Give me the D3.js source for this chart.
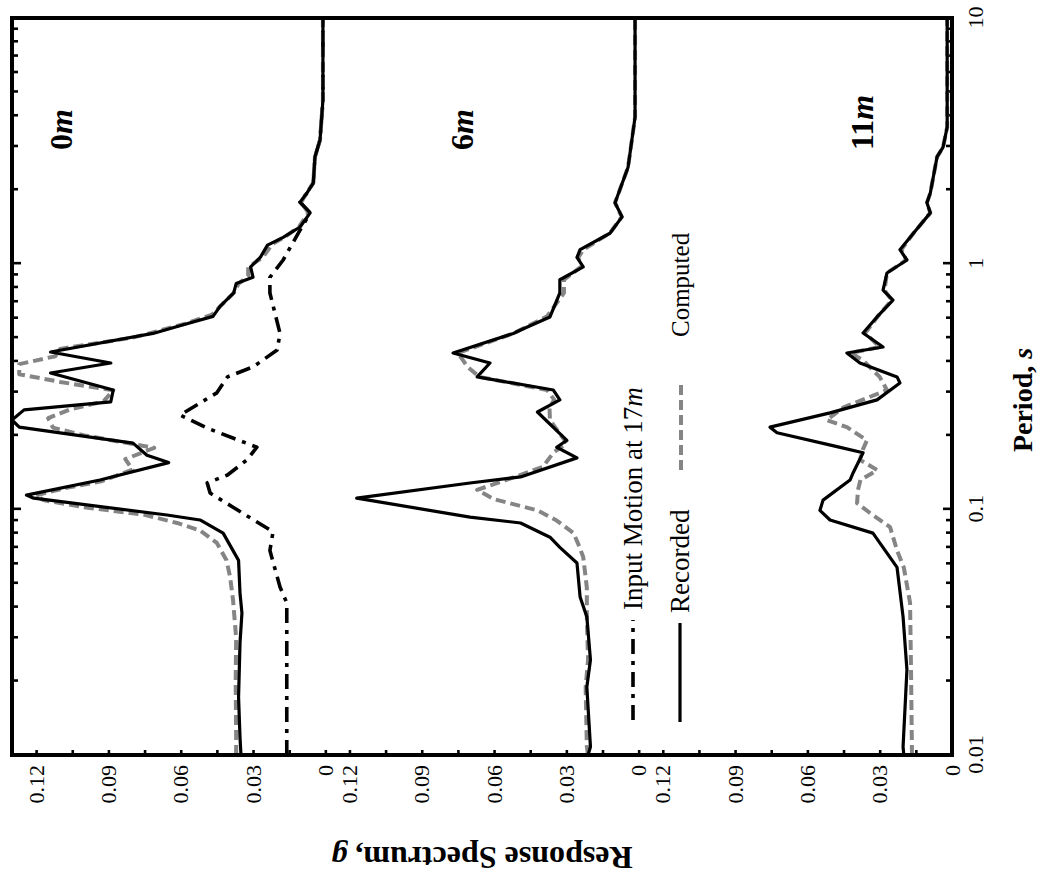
<!DOCTYPE html>
<html>
<head>
<meta charset="utf-8">
<script src="https://cdn.jsdelivr.net/npm/d3@7"></script>
<style>
  body { margin: 0; background: #fff; }
  text { font-family: "Liberation Serif", "Times New Roman", serif; fill: #000; }
</style>
</head>
<body>
<div id="chart"></div>
<script>
// panels (depth below surface)
var panelNames = ["0", "6", "11"];

// tick values
var periodMajor = [0.01, 0.1, 1, 10];
var periodMinor = [0.02, 0.03, 0.04, 0.05, 0.06, 0.07, 0.08, 0.09,
  0.2, 0.3, 0.4, 0.5, 0.6, 0.7, 0.8, 0.9, 2, 3, 4, 5, 6, 7, 8, 9];
var valueTicks = [0, 0.015, 0.03, 0.045, 0.06, 0.075, 0.09, 0.105, 0.12];

// [period s, spectral acceleration g]
var rec0m = [[0.01,0.035],[0.0118,0.0354],[0.0172,0.036],[0.0286,0.0354],[0.0378,0.0346],[0.0456,0.0354],
  [0.062,0.036],[0.08,0.0424],[0.0905,0.052],[0.0948,0.0657],[0.111,0.121],[0.1143,0.124],[0.1316,0.0935],
  [0.155,0.065],[0.166,0.074],[0.186,0.0798],[0.216,0.127],[0.231,0.13],[0.254,0.125],[0.274,0.089],
  [0.306,0.088],[0.359,0.114],[0.394,0.089],[0.437,0.114],[0.52,0.0715],[0.56,0.06],[0.61,0.0466],
  [0.67,0.0437],[0.76,0.038],[0.83,0.037],[0.88,0.03],[0.97,0.031],[1.06,0.027],[1.19,0.024],[1.28,0.0175],
  [1.41,0.0105],[1.61,0.0063],[1.78,0.0105],[1.94,0.0076],[2.13,0.005],[2.72,0.0043],[3.19,0.0022],
  [4.64,0.001],[10,0.001]];
var comp0m = [[0.01,0.037],[0.0118,0.037],[0.02,0.0372],[0.03,0.037],[0.0428,0.0383],[0.053,0.0395],
  [0.062,0.041],[0.073,0.045],[0.082,0.052],[0.088,0.0615],[0.095,0.075],[0.102,0.1],[0.109,0.117],
  [0.114,0.12],[0.122,0.108],[0.13,0.093],[0.145,0.08],[0.16,0.083],[0.178,0.071],[0.2,0.1],[0.215,0.113],
  [0.235,0.115],[0.255,0.106],[0.275,0.092],[0.305,0.088],[0.33,0.11],[0.355,0.127],[0.39,0.127],
  [0.42,0.112],[0.45,0.11],[0.5,0.08],[0.53,0.07],[0.57,0.058],[0.62,0.047],[0.68,0.043],[0.76,0.038],
  [0.83,0.036],[0.89,0.032],[0.97,0.032],[1.06,0.026],[1.2,0.022],[1.3,0.016],[1.41,0.011],[1.61,0.007],
  [1.78,0.01],[1.94,0.0078],[2.13,0.005],[2.72,0.0043],[3.19,0.0022],[4.64,0.001],[10,0.001]];
var input17m = [[0.01,0.016],[0.013,0.016],[0.0416,0.016],[0.0483,0.0188],[0.068,0.023],[0.081,0.0217],
  [0.102,0.0383],[0.1165,0.0478],[0.128,0.049],[0.138,0.0406],[0.159,0.0325],[0.179,0.0284],[0.214,0.049],
  [0.242,0.0603],[0.298,0.045],[0.346,0.0406],[0.38,0.03],[0.445,0.02],[0.52,0.0188],[0.76,0.023],
  [0.88,0.023],[1.035,0.0175],[1.37,0.0105],[1.61,0.0063],[1.78,0.0105],[1.94,0.0076],[2.13,0.005],
  [2.72,0.0043],[3.19,0.0022],[4.64,0.001],[10,0.001]];

var rec6m = [[0.01,0.021],[0.0108,0.02],[0.0189,0.0215],[0.0244,0.02],[0.0365,0.0215],[0.044,0.0243],
  [0.0605,0.0256],[0.07,0.0327],[0.077,0.0368],[0.088,0.049],[0.093,0.07],[0.111,0.117],[0.128,0.07],
  [0.1355,0.049],[0.162,0.0256],[0.179,0.034],[0.191,0.0298],[0.249,0.042],[0.279,0.0327],[0.306,0.0354],
  [0.346,0.067],[0.394,0.0617],[0.433,0.077],[0.52,0.052],[0.537,0.049],[0.607,0.0368],[0.76,0.0327],
  [0.86,0.0327],[0.97,0.023],[1.06,0.0256],[1.14,0.0243],[1.33,0.0119],[1.55,0.0069],[1.77,0.0098],
  [2.47,0.0044],[3.95,0.0015],[10,0.0015]];
var comp6m = [[0.01,0.021],[0.0108,0.0215],[0.0189,0.022],[0.0244,0.021],[0.0365,0.0215],[0.048,0.0215],
  [0.064,0.023],[0.072,0.025],[0.08,0.027],[0.09,0.034],[0.099,0.042],[0.11,0.06],[0.12,0.067],
  [0.132,0.0546],[0.149,0.0397],[0.17,0.0354],[0.186,0.0298],[0.205,0.033],[0.231,0.0368],[0.26,0.037],
  [0.279,0.035],[0.306,0.038],[0.346,0.066],[0.38,0.071],[0.433,0.075],[0.52,0.052],[0.61,0.038],
  [0.76,0.031],[0.86,0.031],[0.97,0.024],[1.06,0.025],[1.14,0.023],[1.33,0.012],[1.55,0.007],
  [1.77,0.0098],[2.47,0.0044],[3.95,0.0015],[10,0.0015]];

var rec11m = [[0.01,0.02],[0.0108,0.0203],[0.0222,0.0187],[0.0365,0.0203],[0.058,0.0228],[0.08,0.0328],
  [0.0905,0.0506],[0.099,0.0548],[0.109,0.0535],[0.1316,0.0423],[0.141,0.041],[0.17,0.0369],[0.18,0.0477],
  [0.205,0.0726],[0.216,0.0755],[0.247,0.0506],[0.279,0.0311],[0.327,0.0216],[0.346,0.0228],[0.394,0.0382],
  [0.433,0.0436],[0.458,0.0286],[0.522,0.0369],[0.607,0.0311],[0.71,0.0245],[0.78,0.0286],[0.916,0.027],
  [1.035,0.0187],[1.14,0.0216],[1.33,0.016],[1.61,0.009],[1.77,0.0104],[1.94,0.009],[2.72,0.0062],
  [2.98,0.0037],[3.6,0.002],[10,0.002]];
var comp11m = [[0.01,0.0166],[0.0222,0.017],[0.0416,0.0174],[0.058,0.02],[0.068,0.0228],[0.0847,0.0257],
  [0.0966,0.034],[0.106,0.0394],[0.12,0.039],[0.1316,0.038],[0.1445,0.031],[0.159,0.0382],[0.175,0.037],
  [0.191,0.0353],[0.216,0.0436],[0.231,0.052],[0.26,0.045],[0.306,0.027],[0.346,0.03],[0.405,0.037],
  [0.433,0.042],[0.458,0.03],[0.522,0.036],[0.607,0.031],[0.71,0.025],[0.78,0.028],[0.916,0.027],
  [1.035,0.019],[1.14,0.021],[1.33,0.016],[1.61,0.009],[1.77,0.0104],[1.94,0.009],[2.72,0.0062],
  [2.98,0.0037],[3.6,0.002],[10,0.002]];

var series = [
  { panel: 0, data: input17m, type: "input" },
  { panel: 0, data: comp0m, type: "computed" },
  { panel: 0, data: rec0m, type: "recorded" },
  { panel: 1, data: comp6m, type: "computed" },
  { panel: 1, data: rec6m, type: "recorded" },
  { panel: 2, data: comp11m, type: "computed" },
  { panel: 2, data: rec11m, type: "recorded" }
];

var styles = {
  recorded: { stroke: "#000", width: 3.2, dash: null },
  computed: { stroke: "#858585", width: 4, dash: "10,5" },
  input: { stroke: "#000", width: 3.6, dash: "15,7,4,7" }
};

// frame on screen; the whole chart is turned a quarter turn counter-clockwise
var frame = { left: 12, top: 18, right: 952, bottom: 755 };
var W = frame.bottom - frame.top; // period axis length
var H = frame.right - frame.left; // stacked panels
var panelH = H / 3;

var svg = d3
  .select("#chart")
  .append("svg")
  .attr("width", 1040)
  .attr("height", 875);

var g = svg
  .append("g")
  .attr("transform", "translate(" + frame.left + "," + frame.bottom + ") rotate(-90)");

//create scales
var xScale = d3.scaleLog().domain([0.01, 10]).range([0, W]);
var yScales = panelNames.map(function(n, i) {
  return d3.scaleLinear().domain([0, 0.13]).range([(i + 1) * panelH, i * panelH]);
});

function styleAxis(sel) {
  sel.select(".domain").remove();
  sel.selectAll(".tick line").attr("stroke", "#000").attr("stroke-width", 2.6);
  sel.attr("font-size", 22);
}

// period axes (bottom and mirrored top)
g.append("g")
  .attr("transform", "translate(0," + H + ")")
  .call(d3.axisBottom(xScale).tickValues(periodMinor).tickSize(-6).tickFormat(""))
  .call(styleAxis);
g.append("g")
  .attr("transform", "translate(0," + H + ")")
  .call(d3.axisBottom(xScale).tickValues(periodMajor).tickSize(-9).tickPadding(15)
    .tickFormat(function(d) { return String(d); }))
  .call(styleAxis);
g.append("g")
  .call(d3.axisTop(xScale).tickValues(periodMinor).tickSize(-6).tickFormat(""))
  .call(styleAxis);
g.append("g")
  .call(d3.axisTop(xScale).tickValues(periodMajor).tickSize(-9).tickFormat(""))
  .call(styleAxis);

// value axes, one per panel
yScales.forEach(function(ys) {
  g.append("g")
    .call(
      d3.axisLeft(ys)
        .tickValues(valueTicks)
        .tickSize(-5)
        .tickPadding(10)
        .tickFormat(function(d) {
          var k = Math.round(d * 1000);
          if (k % 30 !== 0) return "";
          return k === 0 ? "0" : d.toFixed(2);
        })
    )
    .call(styleAxis);
});

// curves
series.forEach(function(s) {
  var ys = yScales[s.panel];
  var st = styles[s.type];
  var line = d3.line()
    .x(function(d) { return xScale(d[0]); })
    .y(function(d) { return ys(d[1]); });
  g.append("path")
    .datum(s.data)
    .attr("d", line)
    .attr("fill", "none")
    .attr("stroke", st.stroke)
    .attr("stroke-width", st.width)
    .attr("stroke-linejoin", "round")
    .attr("stroke-dasharray", st.dash);
});

// frame
g.append("rect")
  .attr("x", 0)
  .attr("y", 0)
  .attr("width", W)
  .attr("height", H)
  .attr("fill", "none")
  .attr("stroke", "#000")
  .attr("stroke-width", 4);

// panel labels
var labelOffsets = [60, 148, 234];
panelNames.forEach(function(n, i) {
  var t = g.append("text")
    .attr("x", 605)
    .attr("y", i * panelH + labelOffsets[i])
    .attr("font-size", 32)
    .attr("font-weight", "bold");
  t.append("tspan").text(n);
  t.append("tspan").attr("font-style", "italic").text("m");
});

// legend
function legendLine(x1, x2, y, type) {
  var st = styles[type];
  g.append("line")
    .attr("x1", x1).attr("x2", x2).attr("y1", y).attr("y2", y)
    .attr("stroke", st.stroke)
    .attr("stroke-width", st.width)
    .attr("stroke-dasharray", st.dash);
}
legendLine(35, 135, 621, "input");
var lt = g.append("text").attr("x", 145).attr("y", 630).attr("font-size", 27);
lt.append("tspan").text("Input Motion at 17");
lt.append("tspan").attr("font-style", "italic").text("m");

legendLine(33, 132, 668, "recorded");
g.append("text").attr("x", 142).attr("y", 677).attr("font-size", 27).text("Recorded");

legendLine(285, 375, 669, "computed");
g.append("text").attr("x", 418).attr("y", 677).attr("font-size", 25).text("Computed");

// axis titles
var xt = g.append("text")
  .attr("x", 355)
  .attr("y", 1020)
  .attr("text-anchor", "middle")
  .attr("font-size", 28)
  .attr("font-weight", "bold");
xt.append("tspan").text("Period, ");
xt.append("tspan").attr("font-style", "italic").text("s");

var yt = g.append("text")
  .attr("transform", "translate(-92," + H / 2 + ") rotate(-90)")
  .attr("text-anchor", "middle")
  .attr("font-size", 32)
  .attr("font-weight", "bold");
yt.append("tspan").text("Response Spectrum, ");
yt.append("tspan").attr("font-style", "italic").text("g");
</script>
</body>
</html>
